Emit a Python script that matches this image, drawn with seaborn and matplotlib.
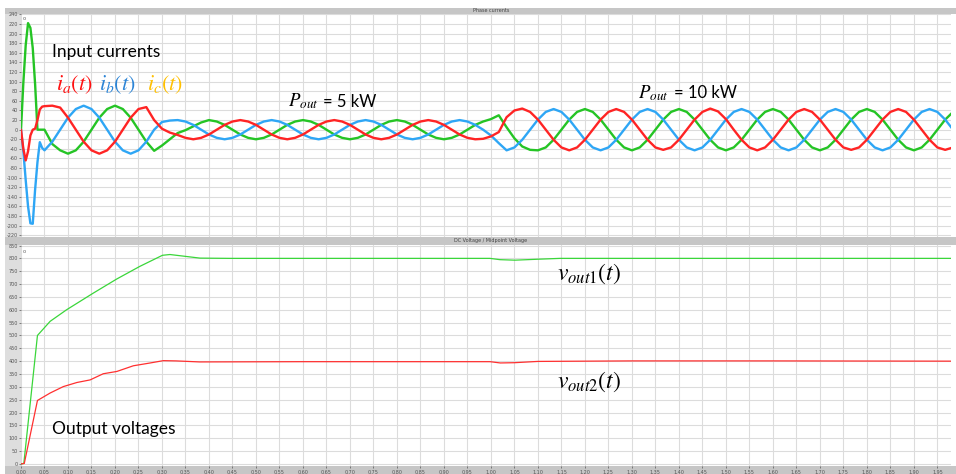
import numpy as np
import pandas as pd
import seaborn as sns
import matplotlib.pyplot as plt
from matplotlib.patches import Rectangle

# ---- phase currents ----
# start-up transient, fine samples
t_start = [0.000, 0.005, 0.010, 0.015, 0.020, 0.025, 0.030, 0.035, 0.040, 0.045]
ia_start = [0, -40, -64, -45, -12, 0, 2, 20, 42, 48]
ib_start = [0, -45, -105, -160, -195, -196, -125, -68, -26, -38]
ic_start = [0, 98, 176, 222, 212, 170, 95, 0, 0, 0]

# after start-up: one sample every 1/60, first sample at 3/60
dt = 1 / 60
k0 = 3
ia_steady = [49, 50, 46, 25, 0, -25, -43, -50, -43, -25, 0, 25, 43, 47,
             20, 2, -6, -11, -17,
             -20, -17, -10, 0, 10, 17, 20, 17, 10, 0, -10, -17, -20, -17, -10, 0, 10, 17,
             20, 17, 10, 0, -10, -17, -20, -17, -10, 0, 10, 17, 20, 17, 10, 0, -10, -17, -20,
             -19, -14, -5, 26, 40, 44,
             37, 21, 0, -21, -37, -43, -37, -21, 0, 21, 37, 43,
             37, 21, 0, -21, -37, -42, -37, -21, 0, 21, 37, 44,
             38, 22, 0, -21, -37, -43, -37, -21, 0, 21, 37, 43,
             37, 21, 0, -21, -37, -42, -37, -21, 0, 21, 37, 43,
             37, 21, 0, -21, -37, -42, -37]
ib_steady = [-43, -25, 0, 25, 43, 50, 43, 25, 0, -25, -43, -50, -43, -25, 0, 16, 19, 20,
             17, 10, 0, -10, -17, -20, -17, -10, 0, 10, 17, 20, 17, 10, 0, -10, -17, -20,
             -17, -10, 0, 10, 17, 20, 17, 10, 0, -10, -17, -20, -17, -10, 0, 10, 17, 20,
             17, 10, 0,
             -12, -28, -43,
             -37, -21, 0, 21, 37, 43, 37, 21, 0, -21, -37, -43,
             -37, -21, 0, 21, 37, 43, 37, 21, 0, -21, -37, -43,
             -37, -21, 0, 21, 37, 43, 37, 21, 0, -21, -37, -43,
             -37, -21, 0, 21, 37, 43, 37, 21, 0, -21, -37, -43,
             -37, -21, 0, 21, 37, 43, 37, 21, 0]
ic_steady = [0, -30, -43, -50, -43, -25, 0, 25, 43, 50, 43, 25, 0, -25, -44,
             -33, -20, -7, -1, 7, 15, 20,
             17, 10, 0, -10, -17, -20, -17, -10, 0, 10, 17, 20, 17, 10, 0, -10, -17, -20,
             -17, -10, 0, 10, 17, 20, 17, 10, 0, -10, -17, -20, -17, -10, 0, 10, 17,
             22, 30, 5, -18, -35, -42, -43,
             -37, -21, 0, 21, 37, 43, 37, 21, 0, -21, -37, -43,
             -37, -21, 0, 21, 37, 43, 37, 21, 0, -21, -37, -43,
             -37, -21, 0, 21, 37, 43, 37, 21, 0, -21, -37, -43,
             -37, -21, 0, 21, 37, 43, 37, 21, 0, -21, -37, -43,
             -37, -21, 0, 21, 37]

# ---- output voltages ----
t_v1 = [0, 0.006, 0.035, 0.062, 0.097, 0.154, 0.204, 0.253, 0.301, 0.317, 0.349,
        0.381, 0.445, 0.70, 0.998, 1.019, 1.051, 1.104, 1.147, 1.50, 1.98]
v_out1 = [0, 2, 500, 555, 600, 665, 720, 769, 812, 815, 808,
          801, 800, 800, 800, 795, 793, 797, 800, 800, 800]
t_v2 = [0, 0.007, 0.035, 0.062, 0.090, 0.119, 0.147, 0.175, 0.204, 0.239, 0.275,
        0.303, 0.33, 0.38, 0.6, 0.998, 1.02, 1.05, 1.1, 1.3, 1.6, 1.98]
v_out2 = [0, 2, 247, 276, 301, 317, 327, 351, 360, 382, 393,
          402, 401, 397, 398, 398, 393, 394, 399, 401, 401, 400]

x_ticks = np.round(np.arange(0, 1.96, 0.05), 2)
cur_ticks = list(range(-220, 241, 20))
volt_ticks = list(range(0, 851, 50))


def phase_frame(name, start, steady):
    t = list(t_start) + list((k0 + np.arange(len(steady))) * dt)
    return pd.DataFrame({"t": t, "i": list(start) + list(steady), "phase": name})


cur = pd.concat([phase_frame("ic", ic_start, ic_steady),
                 phase_frame("ib", ib_start, ib_steady),
                 phase_frame("ia", ia_start, ia_steady)], ignore_index=True)
volt = pd.concat([pd.DataFrame({"t": t_v1, "v": v_out1, "out": "v1"}),
                  pd.DataFrame({"t": t_v2, "v": v_out2, "out": "v2"})], ignore_index=True)

sns.set_theme(style="white")
plt.rcParams["mathtext.fontset"] = "stix"
plt.rcParams["font.family"] = ["Lato", "DejaVu Sans"]

W, H = 956, 474
fig = plt.figure(figsize=(W / 100, H / 100), dpi=100)
fig.patch.set_facecolor("white")

def px_box(x0, y0, x1, y1):
    return [x0 / W, 1 - y1 / H, (x1 - x0) / W, (y1 - y0) / H]

# grey frame pieces of the scope window (drawn under the axes)
for (x0, y0, x1, y1), c in [((5, 8, 21, 474), "#dedede"),
                            ((5, 8, 956, 13.5), "#c6c6c6"),
                            ((5, 236.5, 956, 244.5), "#c6c6c6"),
                            ((5, 466, 956, 474), "#c6c6c6")]:
    b = px_box(x0, y0, x1, y1)
    fig.patches.append(Rectangle((b[0], b[1]), b[2], b[3], transform=fig.transFigure,
                                 facecolor=c, edgecolor="none", zorder=-5))

fig.text(491 / W, 1 - 10.8 / H, "Phase currents", fontsize=3.5, color="#444",
         ha="center", va="center", family="DejaVu Sans")
fig.text(491 / W, 1 - 240.5 / H, "DC Voltage / Midpoint Voltage", fontsize=3.5,
         color="#444", ha="center", va="center", family="DejaVu Sans")

ax1 = fig.add_axes(px_box(21, 13.5, 951, 236.5))
ax2 = fig.add_axes(px_box(21, 244.5, 951, 466))

sns.lineplot(data=cur, x="t", y="i", hue="phase",
             palette={"ia": "#ff2424", "ib": "#2ea6f5", "ic": "#25c425"},
             estimator=None, sort=False, lw=1.7, legend=False, ax=ax1)
sns.lineplot(data=volt, x="t", y="v", hue="out",
             palette={"v1": "#3ad63a", "v2": "#ff3030"},
             estimator=None, sort=False, lw=0.9, legend=False, ax=ax2)

for ax, yt, ylim in [(ax1, cur_ticks, (-222.5, 242)), (ax2, volt_ticks, (-8, 854))]:
    ax.set_xlim(0, 1.979)
    ax.set_ylim(*ylim)
    ax.set_xticks(x_ticks)
    ax.set_yticks(yt)
    ax.set_yticklabels([str(v) for v in yt])
    ax.grid(True, color="#dcdcdc", lw=0.8)
    ax.set_axisbelow(True)
    ax.set_xlabel("")
    ax.set_ylabel("")
    for s in ax.spines.values():
        s.set_visible(False)
    ax.tick_params(axis="y", labelsize=3.5, length=1.5, width=0.5, pad=0.5,
                   colors="#555", left=True)
    for lab in ax.get_yticklabels():
        lab.set_family("DejaVu Sans")

ax1.tick_params(axis="x", bottom=False, labelbottom=False)
ax2.set_xticklabels([f"{v:.2f}" for v in x_ticks])
ax2.tick_params(axis="x", labelsize=3.5, length=1.5, width=0.5, pad=1.2,
                colors="#555", bottom=True)
for lab in ax2.get_xticklabels():
    lab.set_family("DejaVu Sans")

# small cursor markers at top-left
for ax, yv in [(ax1, 232), (ax2, 826)]:
    ax.text(0.008, yv, "o", fontsize=4, color="#666", ha="center", va="center")

# annotations (data coordinates)
ax1.text(0.066, 152, "Input currents", fontsize=12.5, color="black", va="baseline")
ax1.text(0.075, 82, r"$i_a(t)$", fontsize=16, color="#ff1010", va="baseline")
ax1.text(0.166, 82, r"$i_b(t)$", fontsize=16, color="#2b84d6", va="baseline")
ax1.text(0.268, 82, r"$i_c(t)$", fontsize=16, color="#ffc000", va="baseline")
ax1.text(0.568, 48, r"$P_{out}$", fontsize=13.5, color="black", va="baseline")
ax1.text(0.642, 48, "= 5 kW", fontsize=12, color="black", va="baseline")
ax1.text(1.313, 65, r"$P_{out}$", fontsize=13.5, color="black", va="baseline")
ax1.text(1.390, 65, "= 10 kW", fontsize=12, color="black", va="baseline")

ax2.text(1.140, 717, r"$v_{out1}(t)$", fontsize=17, color="black", va="baseline")
ax2.text(1.140, 296, r"$v_{out2}(t)$", fontsize=17, color="black", va="baseline")
ax2.text(0.066, 117, "Output voltages", fontsize=12.5, color="black", va="baseline")

fig.savefig("out.png", dpi=100)
